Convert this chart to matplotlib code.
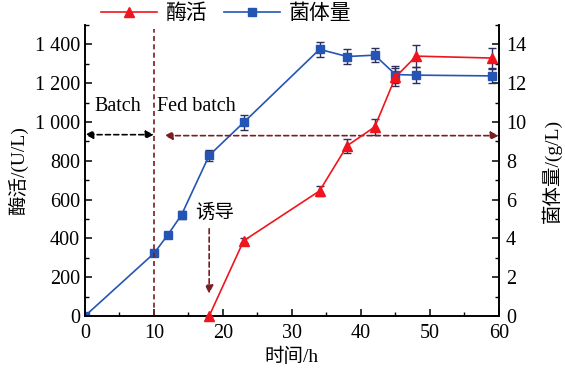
import matplotlib
matplotlib.use("Agg")
import matplotlib.pyplot as plt
from matplotlib.ticker import MultipleLocator, FuncFormatter
from matplotlib.lines import Line2D

plt.rcParams['font.family'] = ['Liberation Serif', 'Noto Sans CJK SC']
plt.rcParams['axes.unicode_minus'] = False

# Enzyme activity (U/L)
t_enzyme = [18, 23, 34, 38, 42, 45, 48, 59]
enzyme = [0, 388, 645, 878, 975, 1232, 1340, 1330]
enzyme_err = [0, 12, 25, 35, 40, 45, 55, 50]

# Biomass (g/L)
t_biomass = [0, 10, 12, 14, 18, 23, 34, 38, 42, 45, 48, 59]
biomass = [0, 3.23, 4.18, 5.22, 8.28, 9.98, 13.75, 13.38, 13.45, 12.45, 12.42, 12.38]
biomass_err = [0, 0.1, 0.12, 0.22, 0.3, 0.4, 0.4, 0.38, 0.36, 0.45, 0.4, 0.38]

RED = '#f0141e'
BLUE = '#2455b4'
ERR = '#2e2e5a'
DARKRED = '#7a1e22'

TICK_FS = 14.5
LABEL_FS = 14

fig = plt.figure(figsize=(5.65, 3.69), dpi=100)
ax = fig.add_axes([0.1504, 0.1436, 0.7327, 0.7884])
ax2 = ax.twinx()

ax.set_xlim(0, 60)
ax.set_ylim(0, 1500)
ax2.set_ylim(0, 15)

for a in (ax, ax2):
    a.spines['top'].set_visible(False)
    for s in a.spines.values():
        s.set_linewidth(1.2)

ax.xaxis.set_major_locator(MultipleLocator(10))
ax.xaxis.set_minor_locator(MultipleLocator(5))
ax.yaxis.set_minor_locator(MultipleLocator(100))
ax2.yaxis.set_minor_locator(MultipleLocator(1))


def thousands(v, pos):
    v = int(round(v))
    if v >= 1000:
        return f"{v // 1000} {v % 1000:03d}"
    return str(v)


ax.set_yticks([0, 200, 400, 600, 800, 1000, 1200, 1400])
ax.yaxis.set_major_formatter(FuncFormatter(thousands))
ax2.set_yticks([0, 2, 4, 6, 8, 10, 12, 14])

ax.tick_params(axis='both', which='major', direction='in', length=5, width=1.1,
               labelsize=TICK_FS)
ax.tick_params(axis='both', which='minor', direction='in', length=3, width=1.0)
ax2.tick_params(axis='y', which='major', direction='in', length=5, width=1.1,
                labelsize=TICK_FS, pad=5)
ax2.tick_params(axis='y', which='minor', direction='in', length=3, width=1.0)
ax.tick_params(axis='x', pad=6)

# Biomass on right axis
ax2.errorbar(t_biomass, biomass, yerr=biomass_err, color=BLUE, lw=1.2,
             marker='s', ms=6, ecolor=ERR, elinewidth=1.0, capsize=3, capthick=1.0,
             zorder=3)
# Enzyme activity on left axis (drawn above biomass)
ax.set_zorder(ax2.get_zorder() + 1)
ax.patch.set_visible(False)
ax.errorbar(t_enzyme, enzyme, yerr=enzyme_err, color=RED, lw=1.2,
            marker='^', ms=7, ecolor=ERR, elinewidth=1.0, capsize=3, capthick=1.0,
            zorder=3, clip_on=False)

# Phase boundary
ax.plot([10, 10], [0, 1480], ls=(0, (3, 2)), color=DARKRED, lw=1.2, zorder=2)

# Batch / fed batch arrows
ax.annotate('', xy=(0, 935), xytext=(10, 935),
            arrowprops=dict(arrowstyle='<|-|>', ls=(0, (3, 2)), color='black', lw=1.2,
                            shrinkA=0, shrinkB=0, mutation_scale=12))
ax.annotate('', xy=(11.5, 930), xytext=(60, 930),
            arrowprops=dict(arrowstyle='<|-|>', ls=(0, (3, 2)), color=DARKRED, lw=1.2,
                            shrinkA=0, shrinkB=0, mutation_scale=12))
ax.text(1.4, 1078, 'Batch', fontsize=TICK_FS, va='center', ha='left')
ax.text(10.4, 1078, 'Fed batch', fontsize=TICK_FS, va='center', ha='left')

# Induction marker
ax.text(16.0, 530, '诱导', fontsize=LABEL_FS, va='center', ha='left')
ax.annotate('', xy=(18, 115), xytext=(18, 450),
            arrowprops=dict(arrowstyle='-|>', ls=(0, (3, 2)), color=DARKRED, lw=1.2,
                            shrinkA=0, shrinkB=0, mutation_scale=12))

ax.set_xlabel('时间/h', fontsize=LABEL_FS, labelpad=3)
ax.set_ylabel('酶活/(U/L)', fontsize=LABEL_FS, labelpad=5)
ax2.set_ylabel('菌体量/(g/L)', fontsize=LABEL_FS, labelpad=11)

# Legend above plot
handles = [Line2D([], [], color=RED, marker='^', ms=7, lw=1.2),
           Line2D([], [], color=BLUE, marker='s', ms=6, lw=1.2)]
fig.legend(handles, ['酶活', '菌体量'], loc='center', bbox_to_anchor=(0.40, 0.962),
           ncol=2, frameon=False, fontsize=15, handlelength=2.7,
           columnspacing=0.8, handletextpad=0.4)

fig.savefig('out.png', dpi=100)
